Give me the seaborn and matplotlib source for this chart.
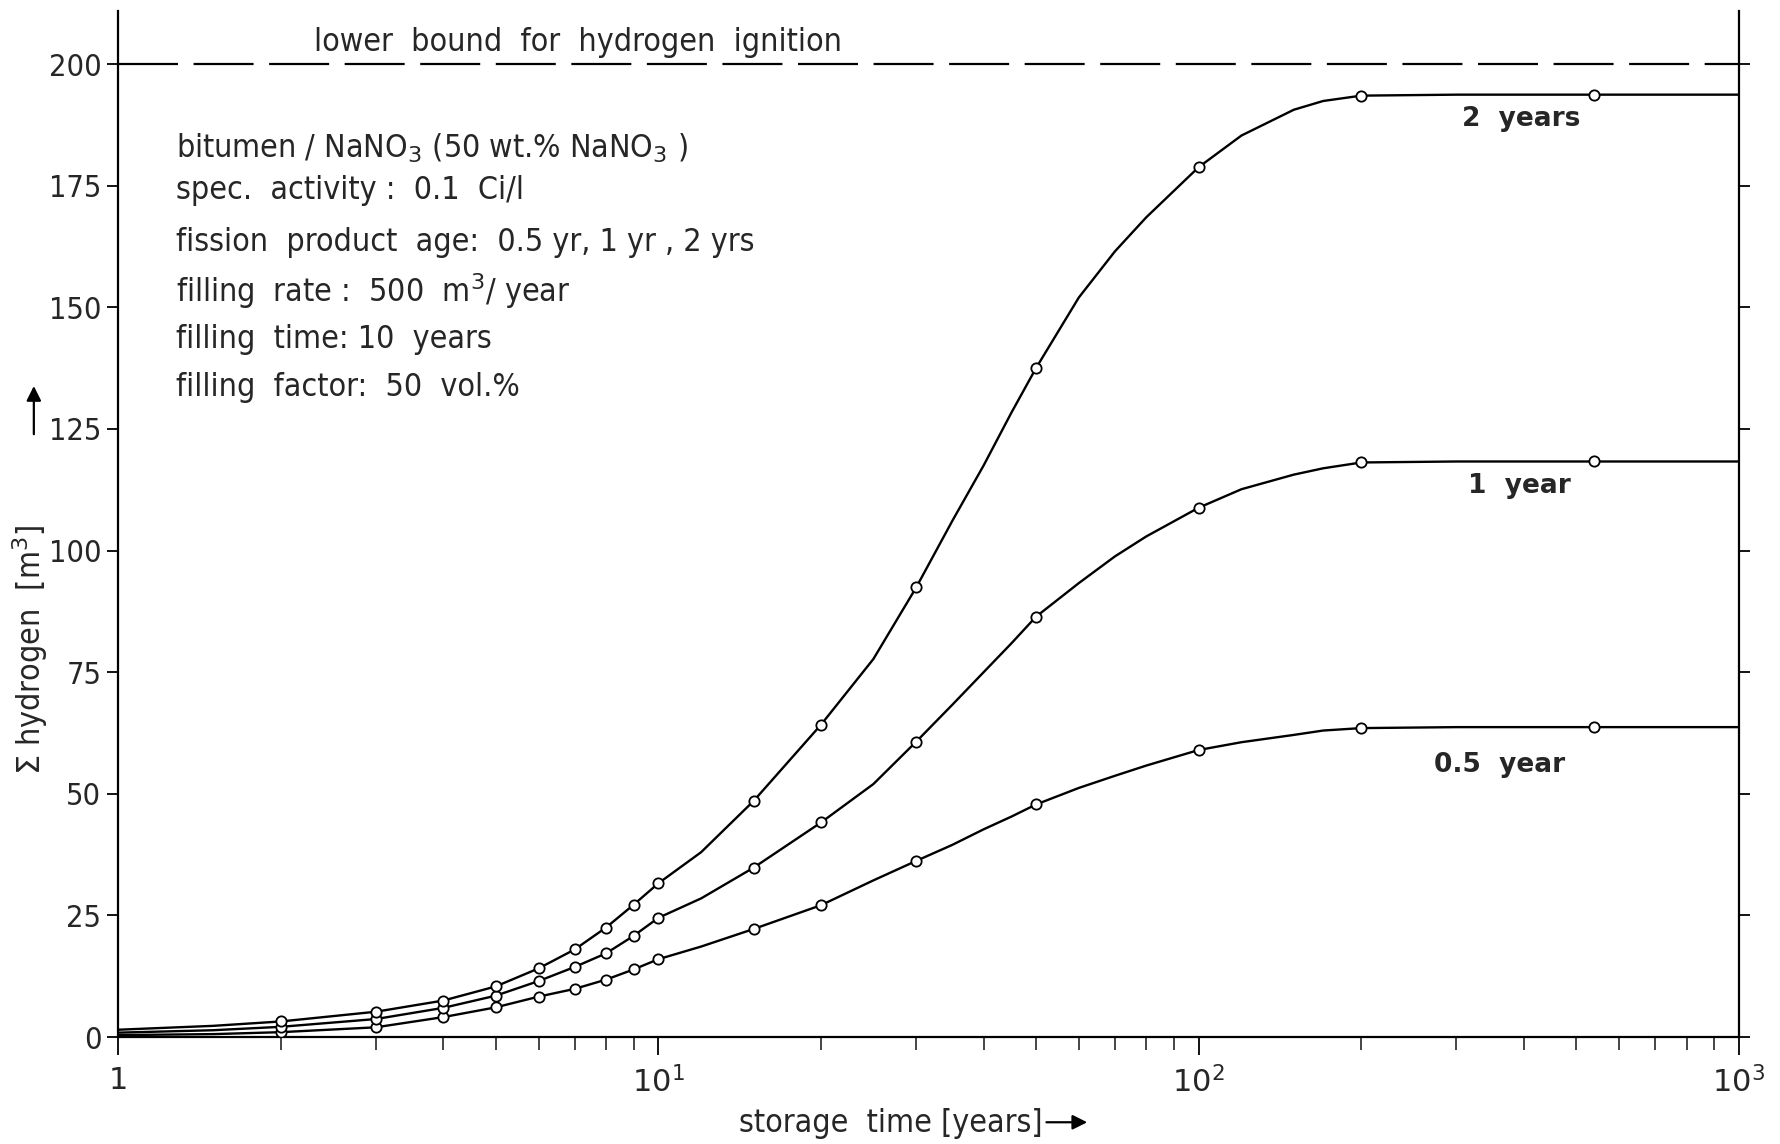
import pandas as pd
import matplotlib
matplotlib.use('Agg')
import matplotlib.pyplot as plt
import seaborn as sns

# circled points (storage time in years, hydrogen in m3)
storage_years = [2, 3, 4, 5, 6, 7, 8, 9, 10, 15, 20, 30, 50, 100, 200, 540]
h2_2yr = [3.2, 5.2, 7.5, 10.4, 14.1, 18.0, 22.5, 27.2, 31.6, 48.5, 64.2, 92.4, 137.5, 178.8, 193.5, 193.7]
h2_1yr = [2.1, 3.7, 6.0, 8.5, 11.5, 14.4, 17.2, 20.8, 24.5, 34.8, 44.1, 60.7, 86.4, 108.8, 118.1, 118.3]
h2_05yr = [1.0, 2.0, 4.1, 6.1, 8.3, 9.9, 11.8, 13.9, 16.0, 22.2, 27.1, 36.2, 47.8, 59.0, 63.5, 63.7]

# extra points (no circle)
curve_years = [1, 1.5, 12, 25, 35, 40, 45, 60, 70, 80, 120, 150, 170, 300, 1000]
curve_2yr = [1.5, 2.3, 38.0, 77.7, 106.1, 117.5, 128.3, 152.0, 161.5, 168.5, 185.3, 190.6, 192.4, 193.7, 193.7]
curve_1yr = [0.9, 1.4, 28.5, 52.0, 68.3, 75.0, 80.9, 93.3, 98.8, 102.9, 112.6, 115.6, 116.9, 118.3, 118.3]
curve_05yr = [0.4, 0.6, 18.6, 32.2, 39.5, 42.7, 45.3, 51.2, 53.7, 55.8, 60.6, 62.1, 63.0, 63.7, 63.7]

ages = ['2 years', '1 year', '0.5 year']
label_pos = [(396, 188.8), (392, 113.2), (361, 56.0)]
ignition_limit = 200

info_lines = [
    r'bitumen / NaNO$_3$ (50 wt.% NaNO$_3$ )',
    'spec.  activity :  0.1  Ci/l',
    'fission  product  age:  0.5 yr, 1 yr , 2 yrs',
    r'filling  rate :  500  m$^3$/ year',
    'filling  time: 10  years',
    'filling  factor:  50  vol.%',
]
info_y = [182.7, 173.9, 163.4, 153.3, 143.3, 133.5]

rows = []
for age, marked, curve in zip(ages, [h2_2yr, h2_1yr, h2_05yr], [curve_2yr, curve_1yr, curve_05yr]):
    for t, v in zip(storage_years, marked):
        rows.append({'age': age, 't': t, 'h2': v, 'marked': True})
    for t, v in zip(curve_years, curve):
        rows.append({'age': age, 't': t, 'h2': v, 'marked': False})
df = pd.DataFrame(rows).sort_values(['age', 't'])

sns.set_style('ticks')
plt.rcParams['font.family'] = ['DejaVu Sans']
plt.rcParams['mathtext.fontset'] = 'dejavusans'
cond = dict(fontstretch='condensed')

fig = plt.figure(figsize=(17.81, 11.44), dpi=100)
ax = fig.add_axes([0.0663, 0.0935, 0.9101, 0.8969])

sns.lineplot(data=df, x='t', y='h2', units='age', estimator=None, sort=True,
             color='black', lw=1.7, ax=ax)
sns.scatterplot(data=df[df['marked']], x='t', y='h2', marker='o', s=55,
                color='white', edgecolor='black', linewidth=1.3, zorder=3, ax=ax)

ax.axhline(ignition_limit, color='black', lw=1.6, ls=(0, (27, 7)))
ax.text(2.3, ignition_limit + 1.3, 'lower  bound  for  hydrogen  ignition',
        fontsize=23, va='bottom', ha='left', **cond)

for line, y in zip(info_lines, info_y):
    ax.text(1.28, y, line, fontsize=23, va='center', ha='left', **cond)

for age, (x, y) in zip(ages, label_pos):
    ax.text(x, y, age.replace(' ', '  '), fontsize=19, va='center', ha='center',
            fontweight='bold')

ax.set_xscale('log')
ax.set_xlim(1, 1000)
ax.set_ylim(0, 210.9)
ax.set_xticks([1, 10, 100, 1000])
ax.set_xticklabels(['1', r'10$^1$', r'10$^2$', r'10$^3$'])
ax.set_yticks(range(0, 201, 25))
ax.tick_params(axis='both', which='major', direction='out', width=1.3,
               labelsize=22, color='black')
ax.tick_params(axis='x', which='major', length=13, pad=8)
ax.tick_params(axis='x', which='minor', length=9, width=1.2)
ax.tick_params(axis='y', which='major', length=8, right=True, pad=4)
for lab in ax.get_yticklabels():
    lab.set_fontstretch('condensed')

ax.spines['top'].set_visible(False)
for side in ['left', 'right', 'bottom']:
    ax.spines[side].set_linewidth(1.6)
    ax.spines[side].set_color('black')
ax.set_xlabel('')
ax.set_ylabel('')

fig.text(0.500, 0.004, 'storage  time [years]', fontsize=23,
         ha='center', va='bottom', **cond)
ax.annotate('', xy=(0.612, 0.019), xytext=(0.586, 0.019),
            xycoords='figure fraction', textcoords='figure fraction',
            arrowprops=dict(arrowstyle='-|>', color='black', lw=1.6, mutation_scale=22))

fig.text(0.017, 0.432, r'$\Sigma$ hydrogen  [m$^3$]', fontsize=23, rotation=90,
         ha='center', va='center', **cond)
ax.annotate('', xy=(0.019, 0.665), xytext=(0.019, 0.618),
            xycoords='figure fraction', textcoords='figure fraction',
            arrowprops=dict(arrowstyle='-|>', color='black', lw=1.6, mutation_scale=22))

fig.savefig('out.png', dpi=100)
